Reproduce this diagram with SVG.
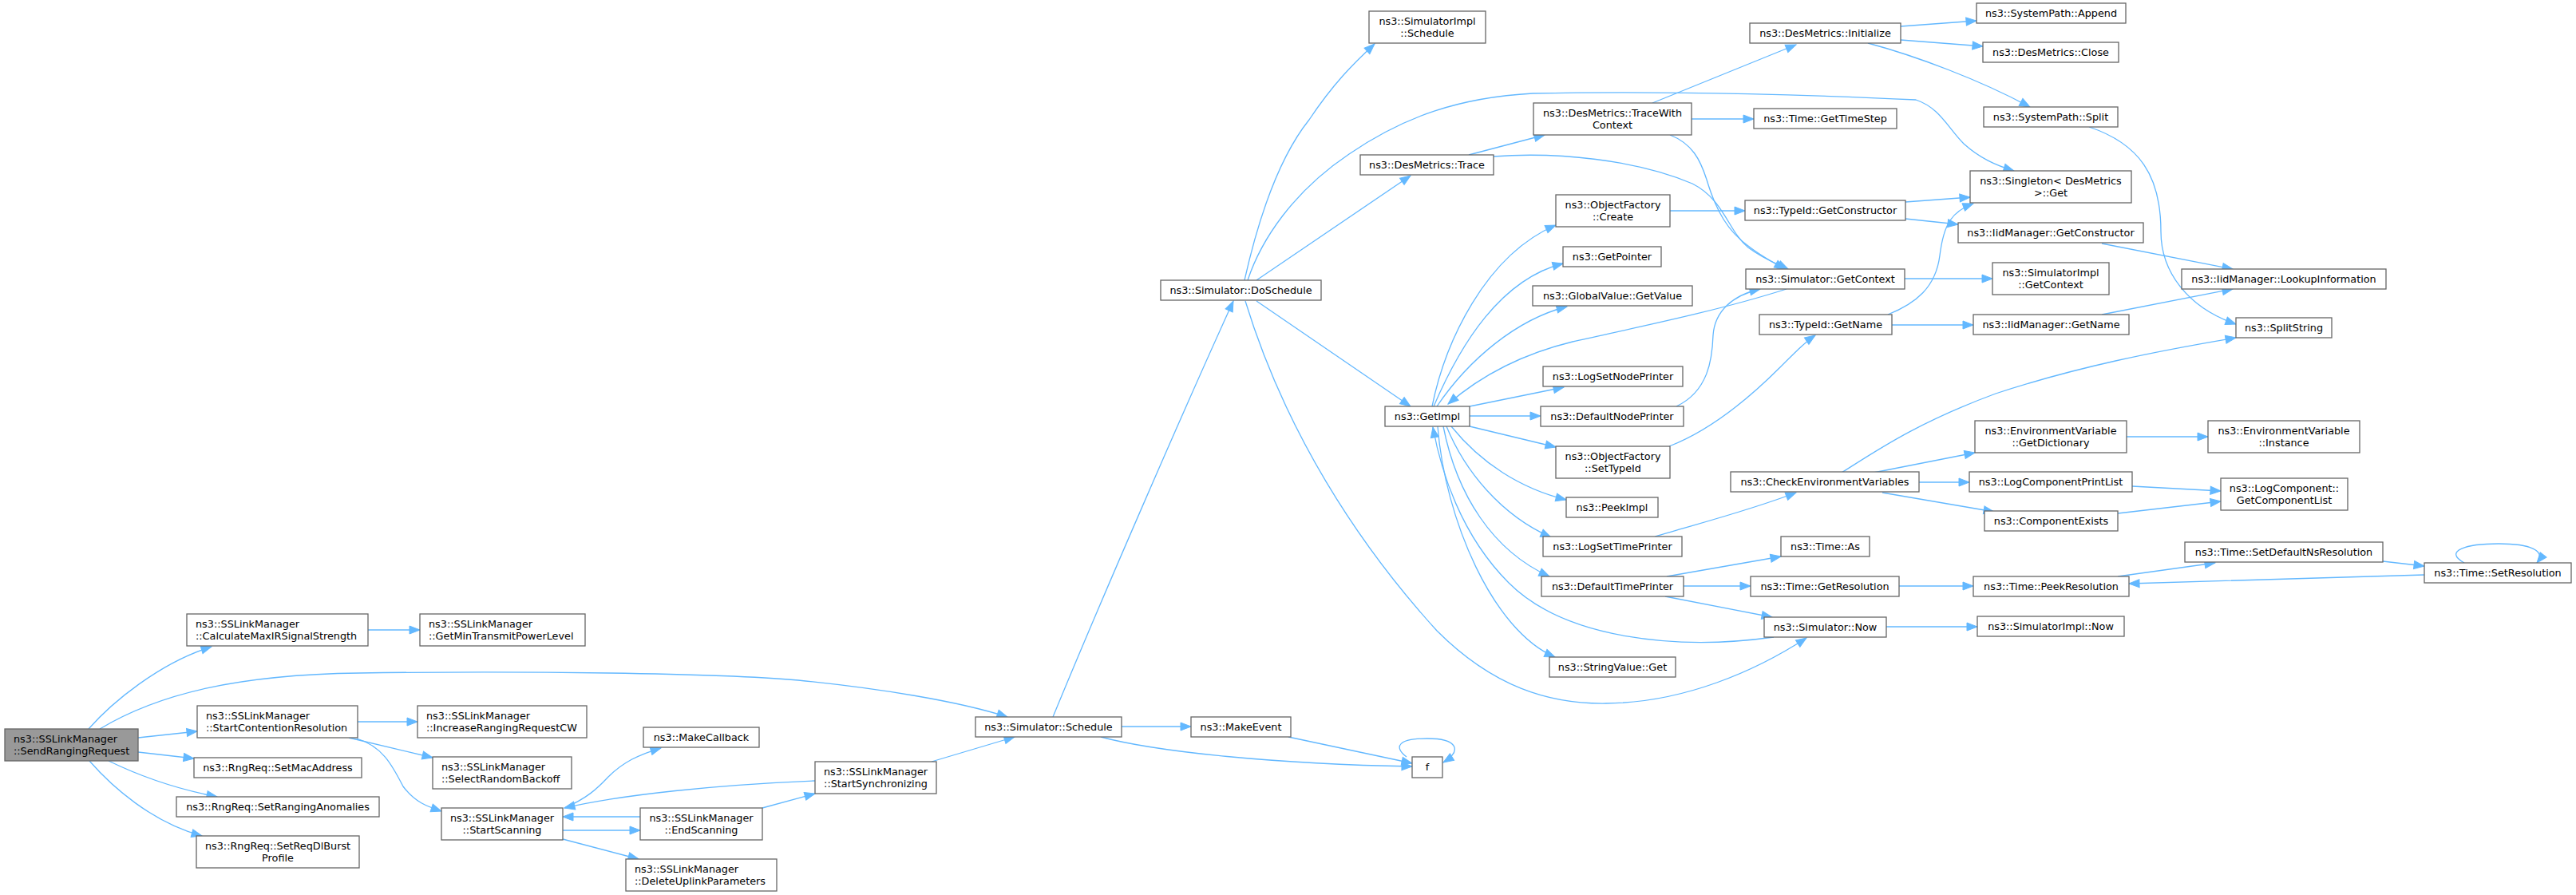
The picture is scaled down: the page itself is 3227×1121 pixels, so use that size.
<svg xmlns="http://www.w3.org/2000/svg" width="3227" height="1121" viewBox="0 0 3227 1121">
<defs>
<marker id="ah" markerWidth="14" markerHeight="12" refX="13" refY="5" orient="auto" markerUnits="userSpaceOnUse" overflow="visible">
<path d="M0,0 L13,5 L0,10 z" fill="#63b8ff" stroke="#63b8ff" stroke-width="1"/>
</marker>
<style>
.node rect{fill:#ffffff;stroke:#666666;stroke-width:1.3}
.node.root rect{fill:#999999}
.node text{font-family:"DejaVu Sans",Verdana,sans-serif;font-size:12.8px;fill:#000000}
.c{text-anchor:middle}
.l{text-anchor:start}
#edges path{fill:none;stroke:#63b8ff;stroke-width:1.3;marker-end:url(#ah)}
</style>
</defs>
<rect x="0" y="0" width="3227" height="1121" fill="#ffffff"/>
<g id="edges">
<path d="M111,913 C140,880 200,830 265,810"/>
<path d="M125,913 C200,868 300,845 450,843 C650,840 900,843 1000,852 C1100,862 1200,878 1262,898"/>
<path d="M173,924 L247,916"/>
<path d="M173,942 L243,950"/>
<path d="M136,953 C175,972 220,988 272,998"/>
<path d="M112,953 C140,985 190,1030 253,1047"/>
<path d="M461,789 L526,789"/>
<path d="M448,904 L523,904"/>
<path d="M437,924 L542,949"/>
<path d="M447,925 C480,935 492,960 505,985 C520,1005 535,1010 553,1016"/>
<path d="M707,1012 C735,1000 748,988 762,973 C780,955 800,945 828,937"/>
<path d="M705,1040 L802,1040"/>
<path d="M802,1023 L705,1023"/>
<path d="M705,1051 L800,1076"/>
<path d="M955,1012 L1021,994"/>
<path d="M1021,978 C900,983 780,995 707,1012"/>
<path d="M1167,954 L1271,923"/>
<path d="M1405,910 L1492,910"/>
<path d="M1379,923 C1450,942 1600,957 1769,960"/>
<path d="M1614,923 L1769,956"/>
<path d="M1762,948 C1745,935 1752,925 1788,925 C1826,925 1832,940 1808,955"/>
<path d="M1319,898 C1380,750 1480,520 1545,377"/>
<path d="M1559,351 C1575,280 1600,200 1640,150 C1670,105 1695,80 1722,55"/>
<path d="M1563,351 C1580,300 1620,240 1690,193 C1760,145 1830,122 1920,117 C2100,113 2300,120 2400,125 C2430,135 2440,160 2460,180 C2480,198 2500,207 2523,214"/>
<path d="M1574,351 L1767,220"/>
<path d="M1574,377 L1767,509"/>
<path d="M1560,377 C1610,540 1700,680 1800,790 C1870,860 1940,882 2012,881 C2110,880 2200,840 2263,799"/>
<path d="M1794,509 C1810,430 1860,320 1949,282"/>
<path d="M1796,509 C1830,430 1880,350 1958,330"/>
<path d="M1800,509 C1840,450 1900,400 1963,384"/>
<path d="M1841,509 L1959,485"/>
<path d="M1841,521 L1930,521"/>
<path d="M1841,534 L1949,560"/>
<path d="M1818,534 C1855,580 1905,612 1962,626"/>
<path d="M1812,534 C1835,590 1880,645 1943,673"/>
<path d="M1808,534 C1825,620 1870,690 1941,722"/>
<path d="M1801,534 C1810,650 1870,790 1948,823"/>
<path d="M2222,798 C2100,815 1960,800 1890,730 C1830,670 1805,590 1795,535"/>
<path d="M2238,362 C2150,390 2050,410 1970,428 C1900,445 1850,475 1814,506"/>
<path d="M2100,509 C2140,490 2145,450 2146,420 C2148,390 2170,370 2205,362"/>
<path d="M2092,264 L2186,264"/>
<path d="M2091,559 C2140,540 2190,500 2230,460 C2250,440 2262,428 2274,420"/>
<path d="M1840,194 L1935,169"/>
<path d="M1871,196 C1950,190 2050,200 2120,230 C2160,250 2165,290 2190,310 C2210,325 2225,330 2240,337"/>
<path d="M2092,169 C2120,180 2130,200 2138,225 C2150,265 2165,290 2190,308 C2205,320 2220,328 2236,337"/>
<path d="M2070,129 L2250,56"/>
<path d="M2119,149 L2197,149"/>
<path d="M2381,33 L2476,26"/>
<path d="M2381,50 L2484,58"/>
<path d="M2340,54 C2400,70 2480,100 2543,134"/>
<path d="M2387,253 L2468,247"/>
<path d="M2387,274 L2453,281"/>
<path d="M2365,394 C2400,380 2425,360 2430,320 C2435,280 2445,265 2472,255"/>
<path d="M2370,407 L2472,407"/>
<path d="M2633,305 L2797,337"/>
<path d="M2633,394 L2797,362"/>
<path d="M2386,349 L2496,349"/>
<path d="M2617,159 C2680,180 2707,220 2707,290 C2707,340 2740,385 2801,406"/>
<path d="M2307,592 C2350,565 2400,530 2500,493 C2600,460 2700,440 2801,423"/>
<path d="M2347,592 L2474,567"/>
<path d="M2664,547 L2766,547"/>
<path d="M2404,604 L2467,604"/>
<path d="M2358,617 L2498,641"/>
<path d="M2671,609 L2782,615"/>
<path d="M2653,643 L2782,628"/>
<path d="M2073,672 C2130,655 2190,640 2250,617"/>
<path d="M2088,722 L2231,697"/>
<path d="M2109,734 L2193,734"/>
<path d="M2086,747 L2220,773"/>
<path d="M2379,734 L2472,734"/>
<path d="M2363,785 L2477,785"/>
<path d="M2653,722 L2775,705"/>
<path d="M3037,720 C2900,724 2750,729 2667,731"/>
<path d="M2985,703 L3037,709"/>
<path d="M3087,705 C3060,690 3090,681 3130,681 C3170,681 3190,690 3178,705"/>
</g>
<g id="n1" class="node root"><rect x="6" y="913" width="167" height="40"/><text class="l" x="17" y="929.5">ns3::SSLinkManager</text><text class="l" x="17" y="944.5">::SendRangingRequest</text></g>
<g id="n2" class="node"><rect x="234" y="769" width="227" height="40"/><text class="l" x="245" y="785.5">ns3::SSLinkManager</text><text class="l" x="245" y="800.5">::CalculateMaxIRSignalStrength</text></g>
<g id="n3" class="node"><rect x="247" y="884" width="201" height="40"/><text class="l" x="258" y="900.5">ns3::SSLinkManager</text><text class="l" x="258" y="915.5">::StartContentionResolution</text></g>
<g id="n4" class="node"><rect x="243" y="949" width="210" height="25"/><text class="c" x="348" y="965.5">ns3::RngReq::SetMacAddress</text></g>
<g id="n5" class="node"><rect x="221" y="998" width="254" height="25"/><text class="c" x="348" y="1014.5">ns3::RngReq::SetRangingAnomalies</text></g>
<g id="n6" class="node"><rect x="246" y="1047" width="204" height="40"/><text class="c" x="348" y="1063.5">ns3::RngReq::SetReqDlBurst</text><text class="c" x="348" y="1078.5">Profile</text></g>
<g id="n7" class="node"><rect x="526" y="769" width="207" height="40"/><text class="l" x="537" y="785.5">ns3::SSLinkManager</text><text class="l" x="537" y="800.5">::GetMinTransmitPowerLevel</text></g>
<g id="n8" class="node"><rect x="523" y="884" width="212" height="40"/><text class="l" x="534" y="900.5">ns3::SSLinkManager</text><text class="l" x="534" y="915.5">::IncreaseRangingRequestCW</text></g>
<g id="n9" class="node"><rect x="542" y="948" width="174" height="40"/><text class="l" x="553" y="964.5">ns3::SSLinkManager</text><text class="l" x="553" y="979.5">::SelectRandomBackoff</text></g>
<g id="n10" class="node"><rect x="553" y="1012" width="152" height="40"/><text class="c" x="629" y="1028.5">ns3::SSLinkManager</text><text class="c" x="629" y="1043.5">::StartScanning</text></g>
<g id="n11" class="node"><rect x="806" y="911" width="145" height="25"/><text class="c" x="878.5" y="927.5">ns3::MakeCallback</text></g>
<g id="n12" class="node"><rect x="802" y="1012" width="153" height="40"/><text class="c" x="878.5" y="1028.5">ns3::SSLinkManager</text><text class="c" x="878.5" y="1043.5">::EndScanning</text></g>
<g id="n13" class="node"><rect x="784" y="1076" width="189" height="40"/><text class="l" x="795" y="1092.5">ns3::SSLinkManager</text><text class="l" x="795" y="1107.5">::DeleteUplinkParameters</text></g>
<g id="n14" class="node"><rect x="1021" y="954" width="152" height="40"/><text class="c" x="1097" y="970.5">ns3::SSLinkManager</text><text class="c" x="1097" y="985.5">::StartSynchronizing</text></g>
<g id="n15" class="node"><rect x="1222" y="898" width="183" height="25"/><text class="c" x="1313.5" y="914.5">ns3::Simulator::Schedule</text></g>
<g id="n16" class="node"><rect x="1492" y="898" width="125" height="25"/><text class="c" x="1554.5" y="914.5">ns3::MakeEvent</text></g>
<g id="n17" class="node"><rect x="1769" y="948" width="38" height="26"/><text class="c" x="1788" y="965">f</text></g>
<g id="n18" class="node"><rect x="1454" y="351" width="201" height="25"/><text class="c" x="1554.5" y="367.5">ns3::Simulator::DoSchedule</text></g>
<g id="n19" class="node"><rect x="1715" y="14" width="146" height="40"/><text class="c" x="1788" y="30.5">ns3::SimulatorImpl</text><text class="c" x="1788" y="45.5">::Schedule</text></g>
<g id="n20" class="node"><rect x="1704" y="194" width="167" height="25"/><text class="c" x="1787.5" y="210.5">ns3::DesMetrics::Trace</text></g>
<g id="n21" class="node"><rect x="1735" y="509" width="106" height="25"/><text class="c" x="1788" y="525.5">ns3::GetImpl</text></g>
<g id="n22" class="node"><rect x="1949" y="244" width="143" height="40"/><text class="c" x="2020.5" y="260.5">ns3::ObjectFactory</text><text class="c" x="2020.5" y="275.5">::Create</text></g>
<g id="n23" class="node"><rect x="1958" y="309" width="123" height="25"/><text class="c" x="2019.5" y="325.5">ns3::GetPointer</text></g>
<g id="n24" class="node"><rect x="1920" y="358" width="200" height="25"/><text class="c" x="2020" y="374.5">ns3::GlobalValue::GetValue</text></g>
<g id="n25" class="node"><rect x="1933" y="459" width="175" height="25"/><text class="c" x="2020.5" y="475.5">ns3::LogSetNodePrinter</text></g>
<g id="n26" class="node"><rect x="1930" y="509" width="179" height="25"/><text class="c" x="2019.5" y="525.5">ns3::DefaultNodePrinter</text></g>
<g id="n27" class="node"><rect x="1949" y="559" width="143" height="40"/><text class="c" x="2020.5" y="575.5">ns3::ObjectFactory</text><text class="c" x="2020.5" y="590.5">::SetTypeId</text></g>
<g id="n28" class="node"><rect x="1962" y="623" width="115" height="25"/><text class="c" x="2019.5" y="639.5">ns3::PeekImpl</text></g>
<g id="n29" class="node"><rect x="1933" y="672" width="174" height="25"/><text class="c" x="2020" y="688.5">ns3::LogSetTimePrinter</text></g>
<g id="n30" class="node"><rect x="1931" y="722" width="178" height="25"/><text class="c" x="2020" y="738.5">ns3::DefaultTimePrinter</text></g>
<g id="n31" class="node"><rect x="1941" y="823" width="158" height="25"/><text class="c" x="2020" y="839.5">ns3::StringValue::Get</text></g>
<g id="n32" class="node"><rect x="1921" y="129" width="198" height="40"/><text class="c" x="2020" y="145.5">ns3::DesMetrics::TraceWith</text><text class="c" x="2020" y="160.5">Context</text></g>
<g id="n33" class="node"><rect x="2192" y="29" width="189" height="25"/><text class="c" x="2286.5" y="45.5">ns3::DesMetrics::Initialize</text></g>
<g id="n34" class="node"><rect x="2197" y="136" width="179" height="25"/><text class="c" x="2286.5" y="152.5">ns3::Time::GetTimeStep</text></g>
<g id="n35" class="node"><rect x="2186" y="251" width="201" height="25"/><text class="c" x="2286.5" y="267.5">ns3::TypeId::GetConstructor</text></g>
<g id="n36" class="node"><rect x="2187" y="337" width="199" height="25"/><text class="c" x="2286.5" y="353.5">ns3::Simulator::GetContext</text></g>
<g id="n37" class="node"><rect x="2204" y="394" width="166" height="25"/><text class="c" x="2287" y="410.5">ns3::TypeId::GetName</text></g>
<g id="n38" class="node"><rect x="2168" y="591" width="236" height="25"/><text class="c" x="2286" y="607.5">ns3::CheckEnvironmentVariables</text></g>
<g id="n39" class="node"><rect x="2231" y="672" width="111" height="25"/><text class="c" x="2286.5" y="688.5">ns3::Time::As</text></g>
<g id="n40" class="node"><rect x="2193" y="722" width="186" height="25"/><text class="c" x="2286" y="738.5">ns3::Time::GetResolution</text></g>
<g id="n41" class="node"><rect x="2210" y="773" width="153" height="25"/><text class="c" x="2286.5" y="789.5">ns3::Simulator::Now</text></g>
<g id="n42" class="node"><rect x="2476" y="4" width="187" height="25"/><text class="c" x="2569.5" y="20.5">ns3::SystemPath::Append</text></g>
<g id="n43" class="node"><rect x="2484" y="53" width="170" height="25"/><text class="c" x="2569" y="69.5">ns3::DesMetrics::Close</text></g>
<g id="n44" class="node"><rect x="2485" y="134" width="168" height="25"/><text class="c" x="2569" y="150.5">ns3::SystemPath::Split</text></g>
<g id="n45" class="node"><rect x="2468" y="214" width="202" height="40"/><text class="c" x="2569" y="230.5">ns3::Singleton&lt; DesMetrics</text><text class="c" x="2569" y="245.5">&gt;::Get</text></g>
<g id="n46" class="node"><rect x="2453" y="279" width="232" height="25"/><text class="c" x="2569" y="295.5">ns3::IidManager::GetConstructor</text></g>
<g id="n47" class="node"><rect x="2496" y="329" width="146" height="40"/><text class="c" x="2569" y="345.5">ns3::SimulatorImpl</text><text class="c" x="2569" y="360.5">::GetContext</text></g>
<g id="n48" class="node"><rect x="2472" y="394" width="195" height="25"/><text class="c" x="2569.5" y="410.5">ns3::IidManager::GetName</text></g>
<g id="n49" class="node"><rect x="2474" y="527" width="190" height="40"/><text class="c" x="2569" y="543.5">ns3::EnvironmentVariable</text><text class="c" x="2569" y="558.5">::GetDictionary</text></g>
<g id="n50" class="node"><rect x="2467" y="591" width="204" height="25"/><text class="c" x="2569" y="607.5">ns3::LogComponentPrintList</text></g>
<g id="n51" class="node"><rect x="2486" y="640" width="167" height="25"/><text class="c" x="2569.5" y="656.5">ns3::ComponentExists</text></g>
<g id="n52" class="node"><rect x="2472" y="722" width="195" height="25"/><text class="c" x="2569.5" y="738.5">ns3::Time::PeekResolution</text></g>
<g id="n53" class="node"><rect x="2477" y="772" width="184" height="25"/><text class="c" x="2569" y="788.5">ns3::SimulatorImpl::Now</text></g>
<g id="n54" class="node"><rect x="2733" y="337" width="256" height="25"/><text class="c" x="2861" y="353.5">ns3::IidManager::LookupInformation</text></g>
<g id="n55" class="node"><rect x="2801" y="398" width="120" height="25"/><text class="c" x="2861" y="414.5">ns3::SplitString</text></g>
<g id="n56" class="node"><rect x="2766" y="527" width="190" height="40"/><text class="c" x="2861" y="543.5">ns3::EnvironmentVariable</text><text class="c" x="2861" y="558.5">::Instance</text></g>
<g id="n57" class="node"><rect x="2782" y="599" width="159" height="40"/><text class="c" x="2861.5" y="615.5">ns3::LogComponent::</text><text class="c" x="2861.5" y="630.5">GetComponentList</text></g>
<g id="n58" class="node"><rect x="2737" y="679" width="248" height="25"/><text class="c" x="2861" y="695.5">ns3::Time::SetDefaultNsResolution</text></g>
<g id="n59" class="node"><rect x="3037" y="705" width="184" height="25"/><text class="c" x="3129" y="721.5">ns3::Time::SetResolution</text></g>
</svg>
